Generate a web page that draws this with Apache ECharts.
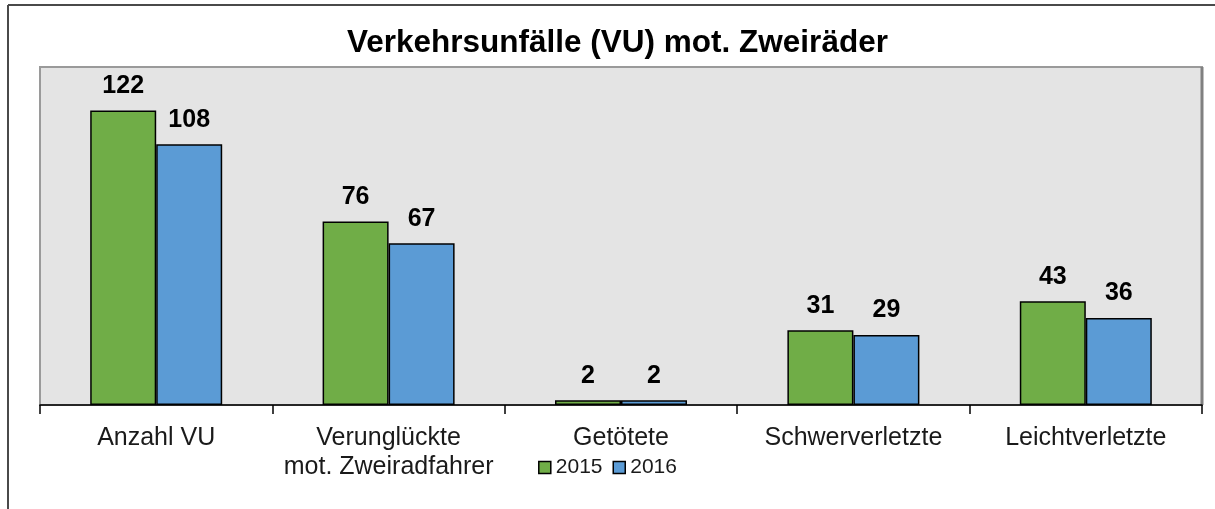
<!DOCTYPE html>
<html lang="de">

<head>
  <meta charset="UTF-8">
  <title>Verkehrsunfälle (VU) mot. Zweiräder</title>
  <script src="https://cdn.jsdelivr.net/npm/echarts@6.0.0/dist/echarts.min.js"></script>
  <style>
    html,
    body {
      margin: 0;
      padding: 0;
      background: #fff;
    }

    #chart {
      width: 1215px;
      height: 509px;
    }
  </style>
</head>

<body>
  <div id="chart"></div>
  <script>
    const categories = ['Anzahl VU', 'Verunglückte\nmot. Zweiradfahrer', 'Getötete', 'Schwerverletzte', 'Leichtverletzte'];
    const years = ['2015', '2016'];
    const values2015 = [122, 76, 2, 31, 43];
    const values2016 = [108, 67, 2, 29, 36];

    const font = 'Arial, "Liberation Sans", sans-serif';
    const chart = echarts.init(document.getElementById('chart'));

    function barSeries(name, data, color) {
      return {
        name: name,
        type: 'bar',
        data: data,
        barWidth: 66,
        barGap: '0%',
        itemStyle: {
          color: color,
          borderColor: '#000',
          borderWidth: 1.5
        },
        label: {
          show: true,
          position: 'top',
          distance: 12,
          fontFamily: font,
          fontSize: 25,
          fontWeight: 'bold',
          color: '#000'
        }
      };
    }

    chart.setOption({
      animation: false,
      textStyle: { fontFamily: font },
      title: {
        text: 'Verkehrsunfälle (VU) mot. Zweiräder',
        left: 342,
        top: 22,
        textStyle: {
          fontFamily: font,
          fontSize: 31.5,
          fontWeight: 'bold',
          color: '#000'
        }
      },
      legend: {
        data: years,
        bottom: 26,
        left: 'center',
        icon: 'rect',
        itemWidth: 12,
        itemHeight: 12,
        itemGap: 10,
        itemStyle: { borderColor: '#000', borderWidth: 1.5 },
        textStyle: { fontFamily: font, fontSize: 21, color: '#1a1a1a' }
      },
      grid: {
        left: 40,
        right: 13,
        top: 67,
        bottom: 104,
        show: true,
        backgroundColor: '#e4e4e4',
        borderColor: '#9a9a9a',
        borderWidth: 2
      },
      xAxis: {
        type: 'category',
        data: categories,
        axisLine: { lineStyle: { color: '#000', width: 1.5 } },
        axisTick: { show: true, interval: 0, length: 9, lineStyle: { color: '#000', width: 1.5 } },
        axisLabel: {
          interval: 0,
          margin: 19,
          fontFamily: font,
          fontSize: 25,
          lineHeight: 29,
          color: '#1a1a1a'
        }
      },
      yAxis: {
        type: 'value',
        min: 0,
        max: 140,
        show: false,
        splitLine: { show: false }
      },
      series: [
        barSeries(years[0], values2015, '#70ad47'),
        barSeries(years[1], values2016, '#5b9bd5')
      ],
      graphic: [
        {
          type: 'line',
          shape: { x1: 8, y1: 5, x2: 1215, y2: 5 },
          style: { stroke: '#4a4a4a', lineWidth: 2 }
        },
        {
          type: 'line',
          shape: { x1: 8, y1: 5, x2: 8, y2: 509 },
          style: { stroke: '#4a4a4a', lineWidth: 2 }
        },
        {
          type: 'line',
          shape: { x1: 1202, y1: 67, x2: 1202, y2: 405 },
          style: { stroke: '#808080', lineWidth: 3 }
        }
      ]
    });
  </script>
</body>

</html>
